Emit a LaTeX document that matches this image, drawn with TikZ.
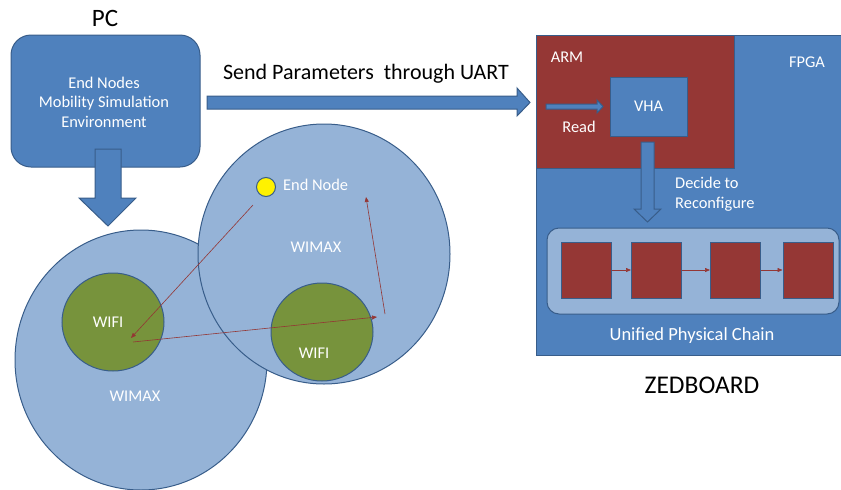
\documentclass[tikz,border=0pt]{standalone}
\usepackage{fontspec}
\setmainfont{Carlito}
\usetikzlibrary{arrows.meta,shapes.geometric}
\definecolor{obl}{HTML}{4F81BD}
\definecolor{obd}{HTML}{385D8A}
\definecolor{lbl}{HTML}{95B3D7}
\definecolor{redbox}{HTML}{953735}
\definecolor{grn}{HTML}{77933C}
\definecolor{redln}{HTML}{943634}
\tikzset{
  blk/.style={fill=obl,draw=obd,line width=1pt},
  bigcirc/.style={ellipse,fill=lbl,draw=obd,line width=1pt,minimum width=252pt,minimum height=260pt,inner sep=0pt},
  wificirc/.style={ellipse,fill=grn,draw=obd,line width=1pt,minimum width=102pt,minimum height=98pt,inner sep=0pt},
  wt/.style={text=white,font=\fontsize{16.4}{19.5}\selectfont,inner sep=0pt},
  bt/.style={text=black,inner sep=0pt},
  redarr/.style={draw=redln,line width=0.6pt,-{Triangle[length=5pt,width=4pt]}},
  chainbox/.style={fill=redbox,draw=obd,line width=1pt,minimum width=50pt,minimum height=56pt,inner sep=0pt},
}
\begin{document}
\begin{tikzpicture}[x=1pt,y=-1pt]
\useasboundingbox (0,0) rectangle (841,490);
\begin{scope}
\clip (0,0) rectangle (841,490);
% PC box
\node[bt,font=\fontsize{25}{30}\selectfont] (pc) at (105,18) {PC};
\draw[blk,rounded corners=20pt] (11,35) rectangle (200,167);
\node[wt,align=center] (pctext) at (104,102) {End Nodes\\Mobility Simulation\\Environment};
% down arrow
\draw[blk] (95,149) -- (121,149) -- (121,198) -- (136,198) -- (108,226) -- (79,198) -- (95,198) -- cycle;
% horizontal arrow
\draw[blk] (207,96) -- (517,96) -- (517,88) -- (530,102.5) -- (517,116) -- (517,109) -- (207,109) -- cycle;
\node[bt,font=\fontsize{22}{26}\selectfont] (uart) at (366,74) {Send Parameters\ \ through UART};
% circles
\node[bigcirc] (wimaxL) at (141,360) {};
\node[bigcirc] (wimaxR) at (324,254) {};
\node[wificirc] (wifiL) at (113,322) {};
\node[wificirc] (wifiR) at (322,332) {};
\node[wt] at (108,322) {WIFI};
\node[wt] at (314,353) {WIFI};
\node[wt] at (135,396) {WIMAX};
\node[wt] at (316,247) {WIMAX};
\node[circle,fill=yellow,draw=obd,line width=1pt,minimum size=19pt,inner sep=0pt] (endn) at (266,187) {};
\node[wt,anchor=west] at (283,185) {End Node};
\coordinate (a1s) at (253,205);
\coordinate (a1e) at (131,338);
\coordinate (a2s) at (133,342);
\coordinate (a2e) at (377,317);
\coordinate (a3s) at (385,314);
\coordinate (a3e) at (366,197);
\draw[redarr] (a1s) -- (a1e);
\draw[redarr] (a2s) -- (a2e);
\draw[redarr] (a3s) -- (a3e);
% ZEDBOARD
\draw[blk] (536,35) rectangle (848,355);
\draw[fill=redbox,draw=obd,line width=1pt] (536,35) rectangle (734,168);
\node[wt] at (567,57) {ARM};
\node[wt] at (807,62) {FPGA};
\node[blk,minimum width=77pt,minimum height=59pt,inner sep=0pt,text=white,font=\fontsize{16.4}{19.5}\selectfont] (vha) at (648.5,106.5) {VHA};
\draw[blk] (546,104) -- (597,104) -- (597,100) -- (603,106.5) -- (597,113) -- (597,109) -- (546,109) -- cycle;
\node[wt] at (579,127) {Read};
\draw[blk] (641,142) -- (654,142) -- (654,209) -- (661,209) -- (647.5,222) -- (634,209) -- (641,209) -- cycle;
\node[wt,anchor=west,align=left] at (675,194) {Decide to\\Reconfigure};
\draw[fill=lbl,draw=obd,line width=1pt,rounded corners=12pt] (547,228) rectangle (839,314);
\node[chainbox] (c1) at (586,270) {};
\node[chainbox] (c2) at (656.5,270) {};
\node[chainbox] (c3) at (735.5,270) {};
\node[chainbox] (c4) at (808,270) {};
\tikzset{chainarr/.style={draw=redln,line width=0.6pt,-{Triangle[length=5pt,width=4pt]}}}
\draw[chainarr] (c1) -- (c2);
\draw[chainarr] (c2) -- (c3);
\draw[chainarr] (c3) -- (c4);
\node[wt,font=\fontsize{18.5}{22}\selectfont] at (692,336) {Unified Physical Chain};
\node[bt,font=\fontsize{25.5}{30}\selectfont] (zed) at (702,385) {ZEDBOARD};
\end{scope}
\end{tikzpicture}
\end{document}
